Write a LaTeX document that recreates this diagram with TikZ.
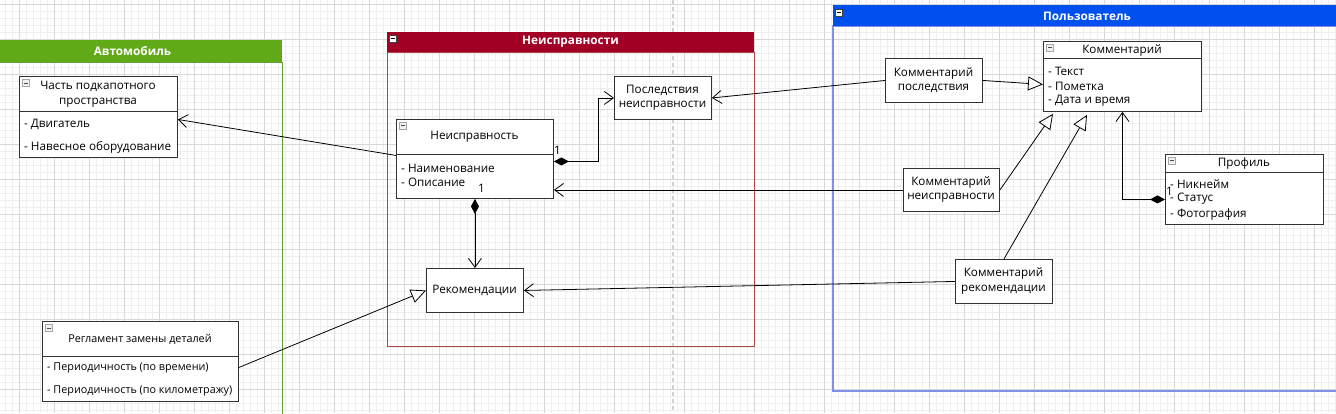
\documentclass[tikz,border=0pt]{standalone}
\usepackage{fontspec}
\setmainfont{Open Sans}
\usetikzlibrary{arrows.meta,calc}
\definecolor{gridmaj}{RGB}{216,216,216}
\definecolor{gridmin}{RGB}{239,239,239}
\definecolor{hdrgreen}{RGB}{96,169,23}
\definecolor{hdrred}{RGB}{162,0,37}
\definecolor{hdrblue}{RGB}{0,80,239}
\definecolor{bdgreen}{RGB}{96,160,50}
\definecolor{bdred}{RGB}{176,70,70}
\definecolor{bdblue}{RGB}{128,144,232}
\definecolor{boxline}{RGB}{50,50,50}
\tikzset{
  box/.style={draw=boxline, fill=white, line width=0.9pt, inner sep=0pt, anchor=north west},
  txt/.style={inner sep=0pt, font=\fontsize{11.7}{14.5}\selectfont, align=center},
  attr/.style={inner sep=0pt, font=\fontsize{11.7}{14.5}\selectfont, anchor=west},
  small/.style={font=\fontsize{10.8}{13}\selectfont},
  hdr/.style={inner sep=0pt, font=\fontsize{11.8}{13}\selectfont\bfseries, text=white},
  lbl/.style={inner sep=0pt, font=\fontsize{11.7}{12}\selectfont},
  conn/.style={draw=black, line width=0.8pt},
  openarr/.style={-{Straight Barb[length=9pt,width=13pt]}},
  genarr/.style={-{Triangle[fill=white,length=15pt,width=14pt]}},
  comparr/.style={{Diamond[length=15pt,width=8pt]}-{Straight Barb[length=9pt,width=13pt]}},
  cicon/.pic={\draw[gray!70, fill=gray!12, line width=0.6pt] (0,0) rectangle (7,7);
              \draw[gray!60!black, line width=0.8pt] (1.5,3.5) -- (5.5,3.5);},
  hicon/.pic={\draw[gray!50!black, fill=white, line width=0.6pt] (0,0) rectangle (7,7);
              \draw[black, line width=0.9pt] (1.5,3.5) -- (5.5,3.5);}
}
\begin{document}
\begin{tikzpicture}[x=1pt,y=-1pt]
\useasboundingbox (0,0) rectangle (1336,413);
\clip (0,0) rectangle (1336,413);
\fill[white] (0,0) rectangle (1336,413);
% grid
\foreach \x in {5,12,...,1336} \draw[gridmin, line width=0.8pt] (\x,0) -- (\x,413);
\foreach \y in {4,11,...,413} \draw[gridmin, line width=0.8pt] (0,\y) -- (1336,\y);
\foreach \x in {19,54,...,1336} \draw[gridmaj, line width=0.9pt] (\x,0) -- (\x,413);
\foreach \y in {4,39,...,413} \draw[gridmaj, line width=0.9pt] (0,\y) -- (1336,\y);
% dashed page separator
\draw[gray!35, line width=1.6pt, dash pattern=on 4pt off 3pt] (673,0) -- (673,413);

% containers
\draw[bdgreen, line width=0.9pt] (-17,62) rectangle (282,430);
\fill[hdrgreen] (-17,40) rectangle (282,62);
\node[hdr] (cauto) at (132.5,51) {Автомобиль};

\draw[bdred, line width=0.9pt] (387,52) rectangle (754,346);
\fill[hdrred] (387,32) rectangle (754,52);
\node[hdr] (cneis) at (570.5,42) {Неисправности};
\pic at (389,35) {hicon};

\draw[bdblue, line width=1.2pt] (833,26) rectangle (1345,391);
\fill[hdrblue] (833,5) rectangle (1345,26);
\node[hdr] (cuser) at (1087,16) {Пользователь};
\pic at (835.5,9) {hicon};

% class boxes
\node[box, minimum width=158pt, minimum height=81pt] (chast) at (19,76) {};
\draw[boxline, line width=0.9pt] (19,111) -- (177,111);
\pic at (22.5,79.5) {cicon};
\node[txt] (chast-t) at (98,94) {Часть подкапотного\\пространства};
\node[attr] (chast-a1) at (24,124) {- Двигатель};
\node[attr] (chast-a2) at (24,147) {- Навесное оборудование};

\node[box, minimum width=157pt, minimum height=79pt] (nes) at (396,119) {};
\draw[boxline, line width=0.9pt] (396,154) -- (553,154);
\pic at (399,122) {cicon};
\node[txt] (nes-t) at (474.5,137) {Неисправность};
\node[attr] (nes-a1) at (401,168) {- Наименование};
\node[attr] (nes-a2) at (401,182) {- Описание};

\node[box, minimum width=97pt, minimum height=43pt] (posl) at (614,76) {};
\node[txt] (posl-t) at (662.5,97.5) {Последствия\\неисправности};

\node[box, minimum width=97pt, minimum height=44pt] (rek) at (426,268) {};
\node[txt] (rek-t) at (474.5,290) {Рекомендации};

\node[box, minimum width=196pt, minimum height=80pt] (regl) at (42,321) {};
\draw[boxline, line width=0.9pt] (42,356) -- (238,356);
\pic at (45.5,324.5) {cicon};
\node[txt, small] (regl-t) at (140,339) {Регламент замены деталей};
\node[attr, small] (regl-a1) at (47,368) {- Периодичность (по времени)};
\node[attr, small] (regl-a2) at (47,391) {- Периодичность (по километражу)};

\node[box, minimum width=158pt, minimum height=70pt] (kom) at (1043,41) {};
\draw[boxline, line width=0.9pt] (1043,58) -- (1201,58);
\pic at (1046.5,44) {cicon};
\node[txt] (kom-t) at (1122,50) {Комментарий};
\node[attr] (kom-a1) at (1048,71) {- Текст};
\node[attr] (kom-a2) at (1048,86) {- Пометка};
\node[attr] (kom-a3) at (1048,101) {- Дата и время};

\node[box, minimum width=97pt, minimum height=44pt] (kpos) at (885,58) {};
\node[txt] (kpos-t) at (933.5,80) {Комментарий\\последствия};

\node[box, minimum width=96pt, minimum height=43pt] (kneis) at (903,168) {};
\node[txt] (kneis-t) at (951,189.5) {Комментарий\\неисправности};

\node[box, minimum width=97pt, minimum height=44pt] (krek) at (955,259) {};
\node[txt] (krek-t) at (1003.5,281) {Комментарий\\рекомендации};

\node[box, minimum width=158pt, minimum height=70pt] (prof) at (1165,154) {};
\draw[boxline, line width=0.9pt] (1165,172) -- (1323,172);
\pic at (1168.5,157) {cicon};
\node[txt] (prof-t) at (1244,163) {Профиль};
\node[attr] (prof-a1) at (1170,184) {- Никнейм};
\node[attr] (prof-a2) at (1170,199) {- Статус};
\node[attr] (prof-a3) at (1170,214) {- Фотография};

% connectors
\draw[conn, openarr] ([yshift=3.5]nes.west) -- ([yshift=-2.5]chast.east);
\draw[conn, openarr] (kpos.west) -- (posl.east);
\draw[conn, genarr] (kpos.east) -- ([yshift=-8]kom.west);
\draw[conn, openarr] (kneis.west) -- (kneis.west -| nes.east);
\draw[conn, genarr] (kneis.east) -- ([xshift=10,yshift=-2]kom.south west);
\draw[conn, genarr] (krek.north) -- ([xshift=44,yshift=-3]kom.south west);
\draw[conn, openarr] (krek.west) -- (rek.east);
\draw[conn, comparr] ([yshift=-10]prof.west) -| (kom.south);
\draw[conn, genarr] ([yshift=-6]regl.east) -- (rek.west);
\draw[conn, comparr] ([yshift=-2.5]nes.east) -- ++(44,0) |- (posl.west);
\draw[conn, comparr] (nes.south) -- (rek.north);

% multiplicities
\node[lbl] (m1) at (557.5,150) {1};
\node[lbl] (m2) at (481.5,188.5) {1};
\node[lbl] (m3) at (1169.5,191.5) {1};
\end{tikzpicture}
\end{document}
